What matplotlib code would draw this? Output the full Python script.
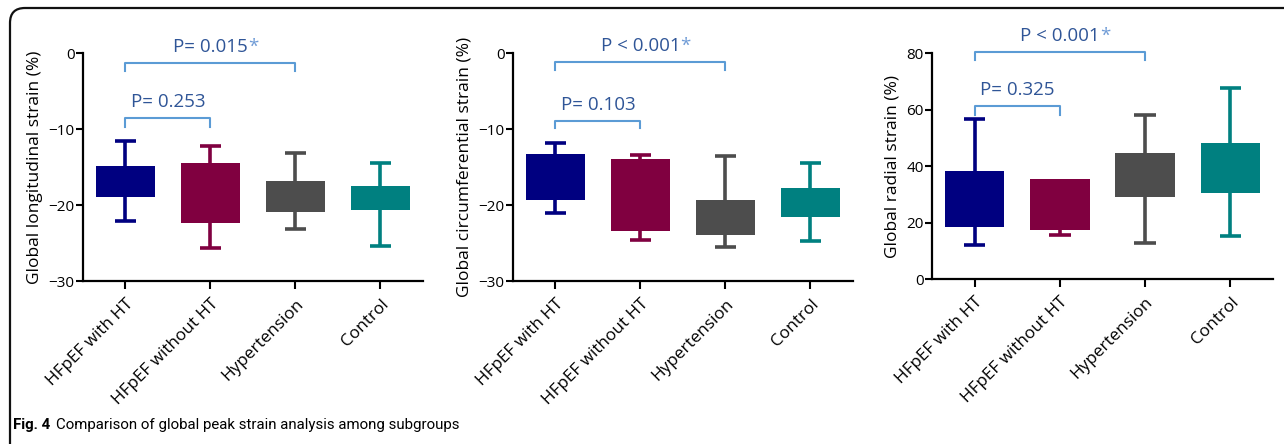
import matplotlib
matplotlib.use("Agg")
import matplotlib.pyplot as plt
from matplotlib.patches import FancyBboxPatch

plt.rcParams['font.family'] = ['Open Sans', 'DejaVu Sans']

# -*- Data -*-
groups = ["HFpEF with HT", "HFpEF without HT", "Hypertension", "Control"]
colors = ["#000080", "#800040", "#4d4d4d", "#008080"]

# Global longitudinal strain (%)
gls_min = [-22.1, -25.6, -23.1, -25.4]
gls_q1 = [-19.0, -22.4, -20.9, -20.7]
gls_q3 = [-14.9, -14.5, -16.9, -17.5]
gls_max = [-11.6, -12.3, -13.1, -14.5]

# Global circumferential strain (%)
gcs_min = [-21.0, -24.6, -25.5, -24.7]
gcs_q1 = [-19.3, -23.4, -23.9, -21.6]
gcs_q3 = [-13.3, -14.0, -19.3, -17.7]
gcs_max = [-11.9, -13.4, -13.6, -14.5]

# Global radial strain (%)
grs_min = [11.9, 15.5, 12.7, 15.2]
grs_q1 = [18.5, 17.2, 29.2, 30.6]
grs_q3 = [38.4, 35.3, 44.6, 48.2]
grs_max = [56.7, 34.8, 58.2, 67.6]

# p values: (label, group a, group b)
gls_p = [("P= 0.253", 0, 1), ("P= 0.015", 0, 2)]
gcs_p = [("P= 0.103", 0, 1), ("P < 0.001", 0, 2)]
grs_p = [("P= 0.325", 0, 1), ("P < 0.001", 0, 2)]
sig_flag = [False, True]

TXT_BLUE = "#2f5597"
LINE_BLUE = "#5b9bd5"
STAR_BLUE = "#6f9bd6"


def box_panel(ax, lo, q1, q3, hi, ylim, yticks, ylabel, pvals, bracket_y,
              drop):
    """Draw one GraphPad-like box and whisker panel."""
    x = list(range(len(groups)))
    ax.bar(x, [b - a for a, b in zip(q1, q3)], bottom=q1, width=0.7,
           color=colors, zorder=3)
    ax.vlines(x, lo, q1, colors=colors, lw=2.6, zorder=2)
    ax.vlines(x, q3, hi, colors=colors, lw=2.6, zorder=2)
    ax.hlines(lo, [i - 0.125 for i in x], [i + 0.125 for i in x],
              colors=colors, lw=2.6, zorder=2)
    ax.hlines(hi, [i - 0.125 for i in x], [i + 0.125 for i in x],
              colors=colors, lw=2.6, zorder=2)

    ax.set_xlim(-0.5, 3.5)
    ax.set_ylim(*ylim)
    ax.set_yticks(yticks)
    ax.set_xticks(x)
    ax.set_xticklabels(groups, rotation=45, ha="right",
                       rotation_mode="anchor", fontsize=12.3)
    ax.tick_params(axis="y", labelsize=11, length=5, width=1.5, pad=1)
    ax.tick_params(axis="x", length=6, width=1.5, pad=5)
    ax.set_ylabel(ylabel, fontsize=12.5, labelpad=4)
    for side in ["top", "right"]:
        ax.spines[side].set_visible(False)
    for side in ["left", "bottom"]:
        ax.spines[side].set_linewidth(1.6)

    # Significance brackets.
    for (label, a, b), yb, star in zip(pvals, bracket_y, sig_flag):
        ax.plot([a, a, b, b], [yb - drop, yb, yb, yb - drop],
                color=LINE_BLUE, lw=1.5, clip_on=False, zorder=4)
        t = ax.annotate(label, xy=((a + b) / 2, yb), xytext=(0, 5),
                        textcoords="offset points", ha="center",
                        va="bottom", fontsize=13.5, color=TXT_BLUE,
                        annotation_clip=False)
        if star:
            ax.annotate("*", xy=(1, 1), xycoords=t, xytext=(0, 0),
                        textcoords="offset points", ha="left", va="top",
                        fontsize=13.5, color=STAR_BLUE,
                        annotation_clip=False)


fig = plt.figure(figsize=(12.84, 4.44), dpi=100)

ax1 = fig.add_axes([0.0646, 0.3671, 0.2648, 0.5135])
ax2 = fig.add_axes([0.3995, 0.3671, 0.2648, 0.5135])
ax3 = fig.add_axes([0.7259, 0.3716, 0.2655, 0.5090])

box_panel(ax1, gls_min, gls_q1, gls_q3, gls_max, (-30, 0),
          [-30, -20, -10, 0], "Global longitudinal strain (%)", gls_p,
          [-8.6, -1.3], 1.1)
box_panel(ax2, gcs_min, gcs_q1, gcs_q3, gcs_max, (-30, 0),
          [-30, -20, -10, 0], "Global circumferential strain (%)", gcs_p,
          [-8.9, -1.2], 1.0)
box_panel(ax3, grs_min, grs_q1, grs_q3, grs_max, (0, 80),
          [0, 20, 40, 60, 80], "Global radial strain (%)", grs_p,
          [61.2, 80.4], 3.0)

# Rounded figure frame (only top and left edges fall inside the picture).
frame = FancyBboxPatch((0.10, -1.0), 20, 5.36, transform=fig.dpi_scale_trans,
                       boxstyle="round,pad=0,rounding_size=0.15",
                       fill=False, edgecolor="#111111", lw=1.6)
fig.add_artist(frame)

# Caption, in a narrower face than the panels.
cap_font = ['Roboto', 'DejaVu Sans']
cap = fig.text(13 / 1284, 1 - 425 / 444, "Fig. 4", fontsize=10.8,
               fontweight="bold", va="center", ha="left", family=cap_font)
ax1.annotate("Comparison of global peak strain analysis among subgroups",
             xy=(1, 0), xycoords=cap, xytext=(4, 0),
             textcoords="offset points", ha="left", va="bottom",
             fontsize=10.8, family=cap_font, annotation_clip=False)

fig.savefig("out.png", dpi=100)
